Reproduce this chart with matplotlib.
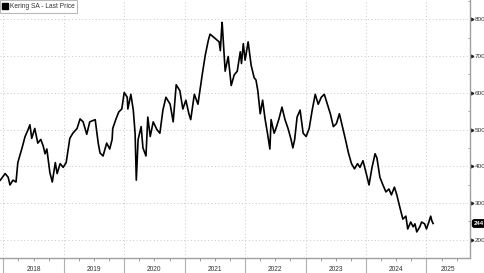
import numpy as np
import matplotlib
matplotlib.use("Agg")
from matplotlib import pyplot as plt
import matplotlib.transforms as mtransforms

plt.rcParams["font.family"] = ["Liberation Sans", "DejaVu Sans"]

# price trace (decimal year, EUR)
dates = [2017.95, 2018.03, 2018.08, 2018.11, 2018.16, 2018.21, 2018.24, 2018.31,
         2018.36, 2018.41, 2018.44, 2018.47, 2018.52, 2018.57, 2018.62, 2018.66,
         2018.69, 2018.72, 2018.77, 2018.81, 2018.86, 2018.89, 2018.94, 2018.99,
         2019.04, 2019.10, 2019.15, 2019.22, 2019.27, 2019.32, 2019.38, 2019.43,
         2019.52, 2019.57, 2019.60, 2019.65, 2019.71, 2019.76, 2019.80, 2019.81,
         2019.86, 2019.91, 2019.96, 2020.00, 2020.05, 2020.06, 2020.11, 2020.15,
         2020.18, 2020.20, 2020.23, 2020.28, 2020.31, 2020.36, 2020.39, 2020.43,
         2020.48, 2020.54, 2020.59, 2020.64, 2020.69, 2020.76, 2020.81, 2020.86,
         2020.92, 2020.97, 2021.02, 2021.07, 2021.10, 2021.16, 2021.22, 2021.29,
         2021.34, 2021.39, 2021.42, 2021.57, 2021.59, 2021.61, 2021.62, 2021.67,
         2021.72, 2021.77, 2021.82, 2021.87, 2021.92, 2021.94, 2021.97, 2022.00,
         2022.05, 2022.10, 2022.15, 2022.18, 2022.21, 2022.25, 2022.29, 2022.33,
         2022.37, 2022.41, 2022.43, 2022.48, 2022.51, 2022.56, 2022.61, 2022.66,
         2022.71, 2022.76, 2022.79, 2022.82, 2022.86, 2022.91, 2022.96, 2023.01,
         2023.06, 2023.11, 2023.16, 2023.21, 2023.26, 2023.31, 2023.36, 2023.41,
         2023.46, 2023.51, 2023.56, 2023.61, 2023.66, 2023.71, 2023.76, 2023.81,
         2023.86, 2023.90, 2023.95, 2024.00, 2024.05, 2024.10, 2024.15, 2024.18,
         2024.23, 2024.28, 2024.33, 2024.38, 2024.42, 2024.47, 2024.51, 2024.56,
         2024.61, 2024.66, 2024.69, 2024.74, 2024.78, 2024.81, 2024.84, 2024.89,
         2024.92, 2024.97, 2025.00, 2025.04, 2025.07, 2025.09, 2025.11]
prices = [362, 380, 370, 349, 362, 357, 410, 450,
          481, 500, 513, 476, 503, 463, 473, 455,
          434, 447, 383, 357, 410, 380, 407, 397,
          410, 476, 490, 503, 529, 521, 487, 521,
          527, 463, 436, 428, 463, 447, 473, 503,
          527, 548, 556, 601, 588, 556, 596, 553,
          490, 362, 473, 508, 450, 428, 534, 481,
          521, 500, 490, 553, 588, 569, 521, 622,
          606, 556, 580, 543, 527, 596, 569, 649,
          702, 742, 760, 739, 715, 770, 792, 659,
          699, 620, 649, 659, 712, 680, 734, 689,
          739, 675, 641, 635, 606, 543, 580, 529,
          490, 447, 527, 490, 503, 529, 561, 527,
          503, 473, 450, 473, 534, 553, 490, 481,
          503, 553, 596, 569, 588, 596, 569, 543,
          508, 516, 543, 508, 473, 436, 407, 393,
          407, 397, 415, 383, 349, 397, 434, 423,
          370, 349, 330, 338, 322, 343, 322, 288,
          256, 264, 229, 248, 235, 243, 221, 235,
          248, 243, 229, 248, 264, 251, 244]
years = [2018, 2019, 2020, 2021, 2022, 2023, 2024, 2025]
yticks = [200, 300, 400, 500, 600, 700, 800]
last_price = 244
series_name = "Kering SA - Last Price"

fig = plt.figure(figsize=(4.85, 2.73), dpi=100)
ax = fig.add_axes([0.0, 0.055, 0.969, 0.945])

ax.plot(dates, prices, color="black", lw=1.2, solid_joinstyle="round")

x0, x1 = 2017.945, 2025.72
ax.set_xlim(x0, x1)
ax.set_ylim(168, 853)

for s in ["top", "left"]:
    ax.spines[s].set_visible(False)
for s in ["right", "bottom"]:
    ax.spines[s].set_color("#a0a0a0")
    ax.spines[s].set_linewidth(1.0)

# x axis: long year separators, short quarter ticks, labels mid-year
ax.set_xticks(years)
ax.set_xticks([y + q for y in years for q in (0.25, 0.5, 0.75) if y + q < x1],
              minor=True)
ax.xaxis.set_ticklabels([])
ax.tick_params(axis="x", which="major", length=11, width=0.8, color="#b0b0b0")
ax.tick_params(axis="x", which="minor", length=2, width=0.6, color="#909090")
trans = mtransforms.blended_transform_factory(ax.transData, ax.transAxes)
for i, y in enumerate(years):
    right = years[i + 1] if i + 1 < len(years) else x1
    ax.text((y + right) / 2, -0.045, str(y), transform=trans, ha="center",
            va="center", fontsize=4.8, color="#333333")

# y axis on the right
ax.yaxis.tick_right()
ax.set_yticks(yticks)
ax.set_yticks(np.arange(150, 851, 50), minor=True)
ax.tick_params(axis="y", which="major", length=0, pad=3.2, labelsize=4.6,
               labelcolor="#333333")
ax.tick_params(axis="y", which="minor", length=1.5, width=0.6, color="#909090",
               direction="in")
ytrans = mtransforms.blended_transform_factory(ax.transAxes, ax.transData)
ax.plot([1.004] * len(yticks), yticks, ls="none", marker=">", ms=2.0,
        color="#222222", transform=ytrans, clip_on=False)

ax.grid(True, which="major", color="#c8c8c8", ls=(0, (1, 2.5)), lw=0.7)

# last price tag
ax.text(1.008, last_price, str(last_price), transform=ytrans, ha="left",
        va="center", fontsize=4.4, color="white", fontweight="bold",
        bbox=dict(boxstyle="round,pad=0.2,rounding_size=0.3", fc="black",
                  ec="black"))

# legend box top-left
leg = ax.legend([plt.Line2D([], [], ls="none", marker="s", ms=4.2,
                            color="black")], [series_name],
                loc="upper left", bbox_to_anchor=(0.0, 1.0), fontsize=4.8,
                frameon=True, fancybox=False, shadow=False, handlelength=0.6,
                handletextpad=0.4, borderpad=0.45, borderaxespad=0.0)
leg.get_frame().set_edgecolor("#a8a8a8")
leg.get_frame().set_linewidth(0.8)
for t in leg.get_texts():
    t.set_color("#333333")

fig.savefig("out.png", dpi=100)
